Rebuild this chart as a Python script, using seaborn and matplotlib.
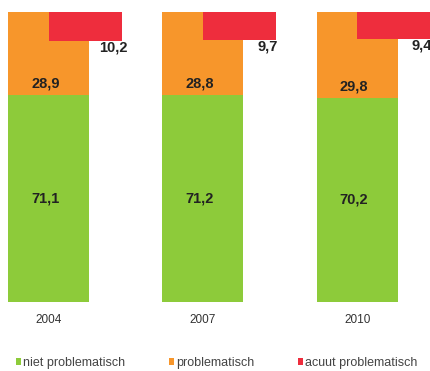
import matplotlib
matplotlib.use("Agg")

import matplotlib.pyplot as plt  # noqa: E402
import numpy as np               # noqa: E402
import pandas as pd              # noqa: E402
import seaborn as sns            # noqa: E402
from matplotlib.patches import Patch  # noqa: E402

# data
years = ["2004", "2007", "2010"]
niet = [71.1, 71.2, 70.2]          # niet problematisch
probl = [28.9, 28.8, 29.8]         # problematisch
acuut = [10.2, 9.7, 9.4]           # acuut problematisch (subset of problematisch)
labels = ["niet problematisch", "problematisch", "acuut problematisch"]

GREEN, ORANGE, RED = "#8DCB3A", "#F7962B", "#EE2D3D"

sns.set_theme(style="white")
plt.rcParams["font.family"] = ["Liberation Sans", "DejaVu Sans"]

df = pd.DataFrame({"jaar": years, "niet": niet, "probl": probl, "acuut": acuut})
df["totaal"] = df["niet"] + df["probl"]


def fmt(v):
    return f"{v:.1f}".replace(".", ",")


fig = plt.figure(figsize=(4.31, 3.71), dpi=100)
ax = fig.add_axes([0, 0.1868, 1, 0.8132])

BAR_W = 0.525
RED_W = 0.475

# stacked bar: orange total first, green on top of it
sns.barplot(data=df, x="jaar", y="totaal", color=ORANGE, width=BAR_W,
            saturation=1, linewidth=0, ax=ax)
sns.barplot(data=df, x="jaar", y="niet", color=GREEN, width=BAR_W,
            saturation=1, linewidth=0, ax=ax)

# acuut bar hangs down from the top, offset to the right
xs = np.arange(len(years))
ax.bar(xs, df["acuut"], bottom=df["totaal"] - df["acuut"], width=RED_W,
       align="edge", color=RED, linewidth=0, zorder=3)

lab_kw = dict(ha="center", va="center", fontsize=10.5, fontweight="bold",
              color="#222222", zorder=4)
for i, row in df.iterrows():
    ax.text(i - 0.02, row["niet"] / 2, fmt(row["niet"]), **lab_kw)
    ax.text(i - 0.02, row["niet"] + 4, fmt(row["probl"]), **lab_kw)
    ax.text(i + 0.42, row["totaal"] - row["acuut"] - 2.2, fmt(row["acuut"]),
            **lab_kw)

ax.set_xlim(-0.316, 2.479)
ax.set_ylim(0, 104)
ax.set_xlabel("")
ax.set_ylabel("")
ax.set_yticks([])
ax.tick_params(axis="x", length=0, pad=9, labelsize=8.5, labelcolor="#333333")
sns.despine(ax=ax, left=True, bottom=True)

handles = [Patch(facecolor=c, edgecolor="none") for c in (GREEN, ORANGE, RED)]
fig.legend(handles, labels, loc="center left", bbox_to_anchor=(0.036, 0.022),
           ncol=3, frameon=False, fontsize=9, labelcolor="#444444",
           handlelength=0.42, handleheight=0.42, handletextpad=0.2,
           columnspacing=3.45, borderpad=0, borderaxespad=0)

fig.savefig("out.png", dpi=100)
